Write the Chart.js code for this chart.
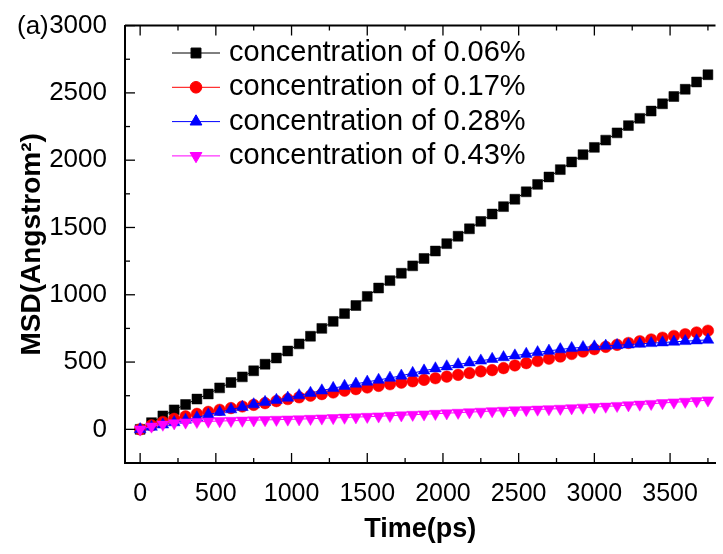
<!DOCTYPE html>
<html>
<head>
<meta charset="utf-8">
<script src="https://cdn.jsdelivr.net/npm/chart.js@4.4.0/dist/chart.umd.min.js"></script>
<style>
  html, body { margin: 0; padding: 0; background: #fff; }
  #wrap { width: 723px; height: 554px; }
</style>
</head>
<body>
<div id="wrap"><canvas id="msd" width="723" height="554"></canvas></div>
<script>
// time (ps), one sample every 75 ps
const timePs = [0, 75, 150, 225, 300, 375, 450, 525, 600, 675, 750, 825, 900, 975, 1050, 1125, 1200, 1275, 1350, 1425,
    1500, 1575, 1650, 1725, 1800, 1875, 1950, 2025, 2100, 2175, 2250, 2325, 2400, 2475, 2550, 2625, 2700, 2775, 2850, 2925,
    3000, 3075, 3150, 3225, 3300, 3375, 3450, 3525, 3600, 3675, 3750];

// MSD (Angstrom^2) for each concentration
const msd006 = [0, 50, 100, 145, 185, 225, 263, 308, 348, 390, 435, 484, 530, 582, 635, 692, 750, 802, 860, 920,
    988, 1050, 1105, 1160, 1215, 1270, 1325, 1380, 1435, 1490, 1545, 1600, 1655, 1710, 1765, 1820, 1875, 1930, 1987, 2041,
    2095, 2149, 2203, 2257, 2311, 2365, 2419, 2473, 2527, 2581, 2635];
const msd017 = [0, 30, 55, 78, 97, 115, 130, 145, 158, 170, 182, 195, 210, 225, 238, 250, 262, 274, 287, 299,
    311, 323, 335, 347, 357, 368, 380, 392, 405, 418, 431, 440, 455, 475, 492, 508, 525, 541, 560, 578,
    596, 613, 628, 642, 655, 668, 681, 694, 707, 720, 733];
const msd028 = [0, 18, 35, 52, 70, 88, 110, 128, 148, 165, 185, 202, 218, 234, 252, 270, 288, 306, 322, 338,
    353, 367, 382, 398, 418, 436, 452, 467, 482, 496, 510, 522, 535, 548, 560, 572, 583, 594, 603, 610,
    615, 620, 625, 630, 635, 640, 645, 650, 655, 660, 665];
const msd043 = [0, 22, 36, 46, 52, 56, 59, 62, 64, 66, 68, 70, 72, 74, 76, 79, 82, 85, 88, 91,
    94, 97, 101, 105, 109, 112, 116, 120, 124, 128, 132, 136, 139, 142, 145, 148, 151, 154, 158, 162,
    166, 170, 175, 180, 185, 190, 196, 201, 206, 211, 216];

const seriesLabels = ['concentration of 0.06%', 'concentration of 0.17%', 'concentration of 0.28%', 'concentration of 0.43%'];

const FONT = "'Liberation Sans', Arial, sans-serif";
Chart.defaults.font.family = FONT;
Chart.defaults.color = '#000';

function points(values) {
    return timePs.map((t, i) => ({ x: t, y: values[i] }));
}

function series(label, values, color, style, radius, rotation, order) {
    return {
        label: label,
        data: points(values),
        borderColor: color,
        backgroundColor: color,
        pointBackgroundColor: color,
        pointBorderColor: color,
        borderWidth: 1,
        pointStyle: style,
        pointRadius: radius,
        pointRotation: rotation,
        pointBorderWidth: 0.5,
        order: order
    };
}

// ticks pointing into the plot, plus the top frame line
const frameTicks = {
    id: 'frameTicks',
    afterDraw(chart) {
        const { ctx, chartArea: a, scales: { x, y } } = chart;
        ctx.save();
        ctx.strokeStyle = '#000';
        ctx.lineWidth = 2;
        ctx.beginPath();
        ctx.moveTo(a.left, a.top);
        ctx.lineTo(a.right, a.top);
        ctx.stroke();
        ctx.lineWidth = 1.3;
        x.ticks.forEach(t => {
            const px = x.getPixelForValue(t.value);
            const len = t.value % 500 === 0 ? 10 : 5;
            ctx.beginPath();
            ctx.moveTo(px, a.bottom);
            ctx.lineTo(px, a.bottom - len);
            ctx.moveTo(px, a.top);
            ctx.lineTo(px, a.top + len);
            ctx.stroke();
        });
        y.ticks.forEach(t => {
            const py = y.getPixelForValue(t.value);
            const len = t.value % 500 === 0 ? 10 : 5;
            ctx.beginPath();
            ctx.moveTo(a.left, py);
            ctx.lineTo(a.left + len, py);
            ctx.stroke();
        });
        // panel tag
        ctx.fillStyle = '#000';
        ctx.font = '26px ' + FONT;
        ctx.textAlign = 'left';
        ctx.textBaseline = 'alphabetic';
        ctx.fillText('(a)', 17, 34);
        ctx.restore();
    }
};

// legend drawn inside the plot, line + marker + text
const insideLegend = {
    id: 'insideLegend',
    afterDatasetsDraw(chart) {
        const ctx = chart.ctx;
        ctx.save();
        chart.data.datasets.forEach((ds, i) => {
            const yy = 53 + i * 34.3;
            ctx.strokeStyle = ds.borderColor;
            ctx.lineWidth = 1;
            ctx.beginPath();
            ctx.moveTo(172, yy);
            ctx.lineTo(220, yy);
            ctx.stroke();
            ctx.fillStyle = ds.pointBackgroundColor;
            ctx.strokeStyle = ds.pointBorderColor;
            Chart.helpers.drawPoint(ctx, {
                pointStyle: ds.pointStyle,
                radius: ds.pointRadius,
                rotation: ds.pointRotation,
                borderWidth: 0.5
            }, 196, yy);
            ctx.fillStyle = '#000';
            ctx.font = '29px ' + FONT;
            ctx.textAlign = 'left';
            ctx.textBaseline = 'middle';
            ctx.fillText(ds.label, 229, yy);
        });
        ctx.restore();
    }
};

new Chart(document.getElementById('msd'), {
    type: 'line',
    data: {
        datasets: [
            series(seriesLabels[0], msd006, '#000000', 'rect', 7, 0, 4),
            series(seriesLabels[1], msd017, '#ff0000', 'circle', 5.8, 0, 3),
            series(seriesLabels[2], msd028, '#0000ff', 'triangle', 6.8, 0, 2),
            series(seriesLabels[3], msd043, '#ff00ff', 'triangle', 6.8, 180, 1)
        ]
    },
    options: {
        responsive: false,
        animation: false,
        events: [],
        layout: { padding: { left: 0, right: 0, top: 19, bottom: 0 } },
        plugins: {
            legend: { display: false },
            tooltip: { enabled: false }
        },
        scales: {
            x: {
                type: 'linear',
                min: -100,
                max: 3800,
                grid: { display: false },
                border: { display: true, color: '#000', width: 2 },
                ticks: {
                    stepSize: 250,
                    includeBounds: false,
                    autoSkip: false,
                    maxRotation: 0,
                    padding: 8,
                    font: { size: 25 },
                    callback: v => (v % 500 === 0 ? String(v) : '')
                },
                title: {
                    display: true,
                    text: 'Time(ps)',
                    font: { size: 27, weight: 'bold' },
                    padding: { top: 0, bottom: 8 }
                },
                afterFit: s => { s.height = 91; }
            },
            y: {
                type: 'linear',
                min: -250,
                max: 3000,
                grid: { display: false },
                border: { display: true, color: '#000', width: 2 },
                ticks: {
                    stepSize: 250,
                    includeBounds: false,
                    autoSkip: false,
                    padding: 10,
                    font: { size: 26 },
                    callback: v => (v % 500 === 0 ? String(v) : '')
                },
                title: {
                    display: true,
                    text: 'MSD(Angstrom²)',
                    font: { size: 28, weight: 'bold' },
                    padding: { top: 15, bottom: 0 }
                },
                afterFit: s => { s.width = 125; }
            }
        }
    },
    plugins: [frameTicks, insideLegend]
});
</script>
</body>
</html>
